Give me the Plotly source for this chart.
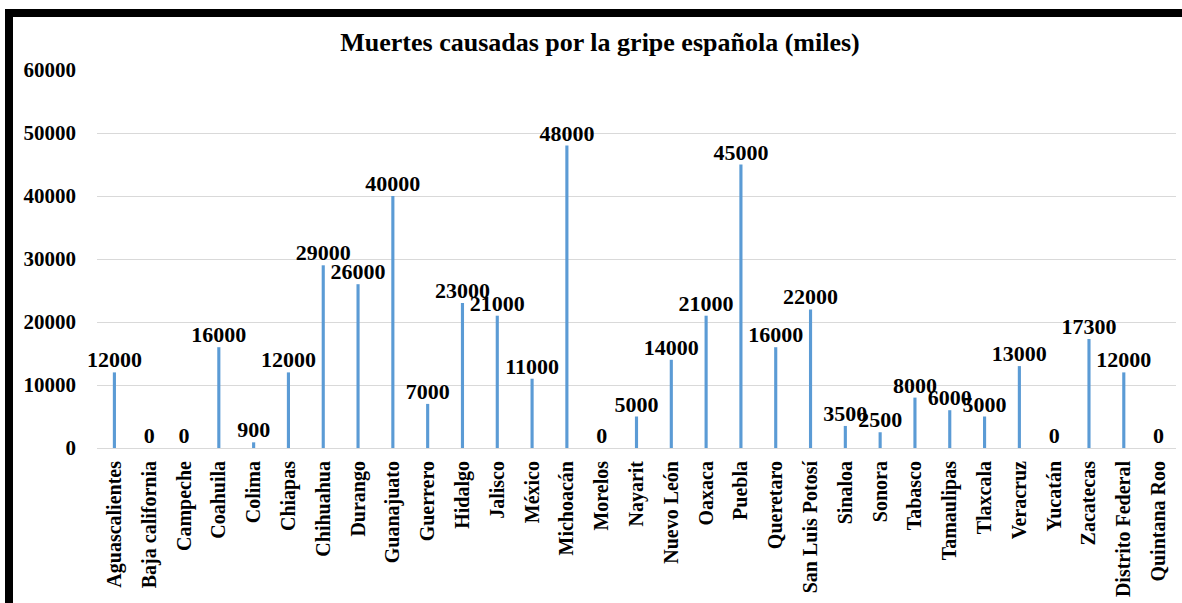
import plotly.graph_objects as go

estados = ["Aguascalientes", "Baja california", "Campeche", "Coahuila", "Colima", "Chiapas",
           "Chihuahua", "Durango", "Guanajuato", "Guerrero", "Hidalgo", "Jalisco", "México",
           "Michoacán", "Morelos", "Nayarit", "Nuevo León", "Oaxaca", "Puebla", "Queretaro",
           "San Luis Potosí", "Sinaloa", "Sonora", "Tabasco", "Tamaulipas", "Tlaxcala",
           "Veracruz", "Yucatán", "Zacatecas", "Distrito Federal", "Quintana Roo"]
muertes = [12000, 0, 0, 16000, 900, 12000, 29000, 26000, 40000, 7000, 23000, 21000, 11000,
           48000, 0, 5000, 14000, 21000, 45000, 16000, 22000, 3500, 2500, 8000, 6000, 5000,
           13000, 0, 17300, 12000, 0]
y_ticks = [0, 10000, 20000, 30000, 40000, 50000, 60000]

W, H = 1182, 603
L, R, T, B = 97, 6, 70, 155
pw, ph = W - L - R, H - T - B

def px(x):
    return (x - L) / pw

def py(y):
    return (H - B - y) / ph

FONT = "Liberation Serif"

fig = go.Figure(go.Bar(
    x=estados, y=muertes, width=0.09,
    marker=dict(color="#5B9BD5", line=dict(width=0)),
    text=[str(v) for v in muertes], textposition="outside",
    constraintext="none",
    textfont=dict(family=FONT, size=22, color="black", weight="bold"),
    cliponaxis=False,
))

fig.update_layout(
    width=W, height=H,
    margin=dict(l=L, r=R, t=T, b=B, autoexpand=False),
    paper_bgcolor="white", plot_bgcolor="white",
    showlegend=False,
    title=dict(text="<b>Muertes causadas por la gripe española (miles)</b>",
               x=600 / W, xref="container", xanchor="center",
               y=1 - 42 / H, yref="container", yanchor="middle",
               font=dict(family=FONT, size=26, color="black")),
    xaxis=dict(tickangle=-90, showgrid=False, showline=False, ticks="",
               tickfont=dict(family=FONT, size=20, color="black", weight="bold"),
               ticklabelstandoff=8),
    yaxis=dict(range=[0, 60000], tickvals=y_ticks, ticktext=[str(v) for v in y_ticks],
               showgrid=True, gridcolor="#D9D9D9", gridwidth=1,
               zeroline=True, zerolinecolor="#D9D9D9", zerolinewidth=1,
               showline=False, ticks="",
               tickfont=dict(family=FONT, size=21, color="black", weight="bold"),
               ticklabelstandoff=20),
    shapes=[
        dict(type="rect", xref="paper", yref="paper", x0=px(5), x1=px(13), y0=py(9), y1=py(H + 5),
             fillcolor="black", line=dict(width=0), layer="above"),
        dict(type="rect", xref="paper", yref="paper", x0=px(5), x1=px(W + 5), y0=py(9), y1=py(17),
             fillcolor="black", line=dict(width=0), layer="above"),
    ],
)

fig.write_html("out.html", config={"displayModeBar": False},
               post_script="document.body.style.margin='0';")
